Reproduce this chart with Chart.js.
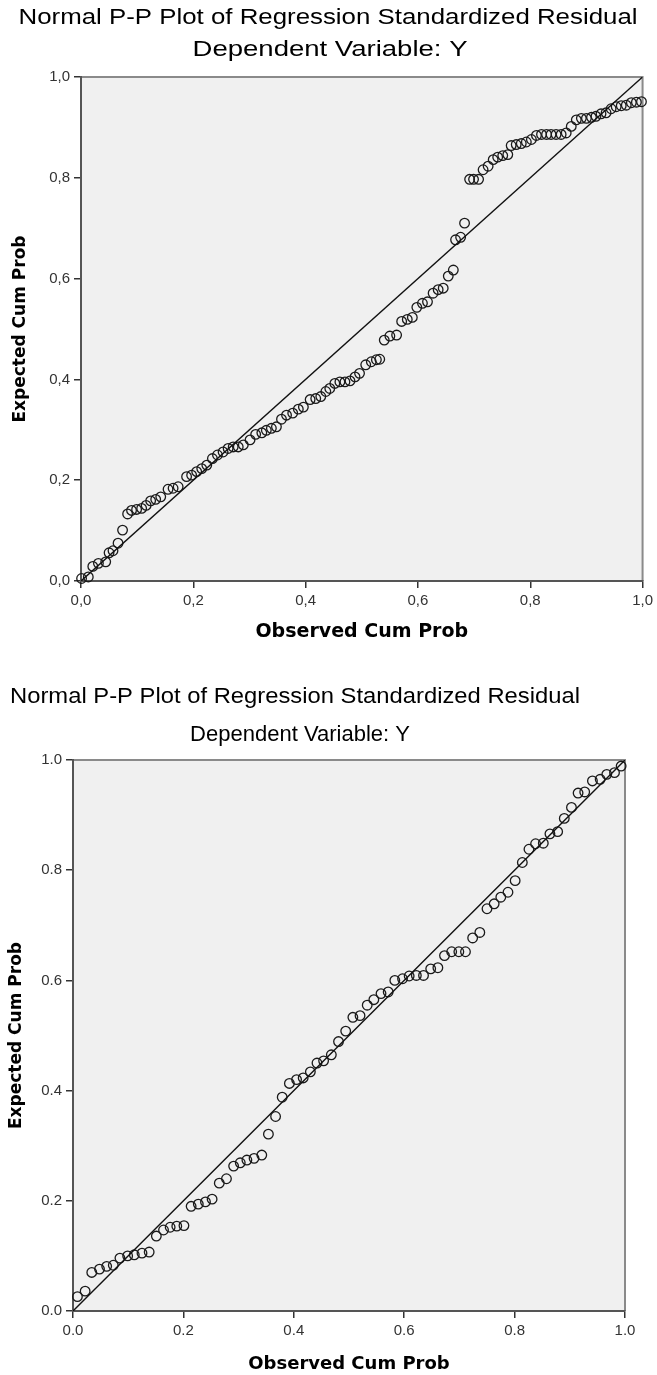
<!DOCTYPE html>
<html>
<head>
<meta charset="utf-8">
<script src="https://cdn.jsdelivr.net/npm/chart.js@4"></script>
<style>
  body { margin: 0; background: #fff; }
  canvas { display: block; }
</style>
</head>
<body>
<canvas id="pp1" width="657" height="650"></canvas>
<canvas id="pp2" width="657" height="725"></canvas>
<script>
// Texts
const titleText = "Normal P-P Plot of Regression Standardized Residual";
const subtitleText = "Dependent Variable: Y";
const xTitle = "Observed Cum Prob";
const yTitle = "Expected Cum Prob";

// Tick labels (chart 1 uses comma decimals, chart 2 uses points)
const tickLabels1 = ["0,0", "0,2", "0,4", "0,6", "0,8", "1,0"];
const tickLabels2 = ["0.0", "0.2", "0.4", "0.6", "0.8", "1.0"];

// reference diagonal
const diagonal = [0, 1];

// Chart 1: observed vs expected cumulative probability
const observed1 = [0.001, 0.013, 0.021, 0.031, 0.044, 0.050, 0.057, 0.066, 0.074, 0.083,
  0.090, 0.099, 0.108, 0.116, 0.124, 0.133, 0.142, 0.155, 0.164, 0.173,
  0.188, 0.197, 0.206, 0.215, 0.224, 0.234, 0.243, 0.253, 0.262, 0.271,
  0.280, 0.289, 0.301, 0.311, 0.322, 0.330, 0.339, 0.348, 0.357, 0.366,
  0.377, 0.387, 0.396, 0.408, 0.418, 0.427, 0.436, 0.443, 0.452, 0.461,
  0.470, 0.479, 0.488, 0.496, 0.507, 0.517, 0.526, 0.532, 0.540, 0.550,
  0.562, 0.571, 0.581, 0.590, 0.598, 0.608, 0.617, 0.627, 0.636, 0.645,
  0.654, 0.663, 0.667, 0.676, 0.683, 0.692, 0.699, 0.708, 0.716, 0.725,
  0.734, 0.742, 0.751, 0.760, 0.766, 0.775, 0.784, 0.793, 0.802, 0.811,
  0.820, 0.829, 0.837, 0.846, 0.855, 0.864, 0.873, 0.882, 0.891, 0.900,
  0.909, 0.917, 0.926, 0.935, 0.944, 0.953, 0.962, 0.971, 0.980, 0.989, 0.998];
const expected1 = [0.005, 0.008, 0.029, 0.035, 0.038, 0.056, 0.060, 0.075, 0.101, 0.133,
  0.140, 0.142, 0.144, 0.150, 0.159, 0.162, 0.167, 0.182, 0.184, 0.187,
  0.207, 0.210, 0.217, 0.223, 0.230, 0.243, 0.250, 0.256, 0.263, 0.266,
  0.266, 0.270, 0.280, 0.291, 0.294, 0.299, 0.303, 0.306, 0.321, 0.329,
  0.333, 0.341, 0.345, 0.360, 0.362, 0.366, 0.376, 0.382, 0.392, 0.395,
  0.395, 0.397, 0.405, 0.412, 0.429, 0.435, 0.439, 0.440, 0.478, 0.486,
  0.488, 0.515, 0.519, 0.523, 0.543, 0.551, 0.554, 0.571, 0.578, 0.581,
  0.605, 0.617, 0.677, 0.682, 0.710, 0.797, 0.797, 0.797, 0.816, 0.823,
  0.836, 0.841, 0.844, 0.846, 0.864, 0.866, 0.868, 0.871, 0.876, 0.884,
  0.886, 0.886, 0.886, 0.886, 0.886, 0.889, 0.902, 0.915, 0.918, 0.918,
  0.920, 0.922, 0.927, 0.929, 0.937, 0.941, 0.943, 0.944, 0.949, 0.950, 0.951];

// Chart 2
const observed2 = [0.008, 0.022, 0.034, 0.048, 0.061, 0.073, 0.085, 0.099, 0.111, 0.125,
  0.138, 0.151, 0.164, 0.176, 0.188, 0.201, 0.214, 0.227, 0.240, 0.252,
  0.265, 0.278, 0.291, 0.303, 0.315, 0.328, 0.342, 0.354, 0.367, 0.379,
  0.392, 0.405, 0.417, 0.430, 0.442, 0.454, 0.468, 0.481, 0.494, 0.507,
  0.520, 0.533, 0.545, 0.558, 0.571, 0.583, 0.597, 0.609, 0.622, 0.635,
  0.648, 0.661, 0.673, 0.686, 0.699, 0.711, 0.724, 0.737, 0.750, 0.763,
  0.775, 0.788, 0.801, 0.814, 0.826, 0.838, 0.852, 0.864, 0.878, 0.890,
  0.903, 0.915, 0.927, 0.941, 0.955, 0.967, 0.981, 0.993];
const expected2 = [0.026, 0.036, 0.070, 0.076, 0.081, 0.083, 0.096, 0.100, 0.102, 0.105,
  0.107, 0.136, 0.147, 0.152, 0.154, 0.155, 0.190, 0.194, 0.198, 0.203,
  0.232, 0.240, 0.263, 0.269, 0.274, 0.277, 0.283, 0.321, 0.353, 0.388,
  0.413, 0.420, 0.423, 0.434, 0.450, 0.454, 0.465, 0.489, 0.508, 0.533,
  0.536, 0.555, 0.565, 0.576, 0.579, 0.600, 0.603, 0.608, 0.609, 0.609,
  0.621, 0.623, 0.645, 0.652, 0.652, 0.652, 0.677, 0.687, 0.730, 0.739,
  0.751, 0.760, 0.781, 0.814, 0.838, 0.848, 0.849, 0.866, 0.870, 0.894,
  0.914, 0.940, 0.942, 0.962, 0.965, 0.974, 0.977, 0.989];

// grey plot area + top/right frame + the two title lines (stretched like the SPSS export)
const framePlugin = {
  id: "frame",
  beforeDraw(chart, args, opts) {
    const { ctx, chartArea: a } = chart;
    ctx.save();
    ctx.fillStyle = "#f0f0f0";
    ctx.fillRect(a.left, a.top, a.right - a.left, a.bottom - a.top);
    ctx.strokeStyle = "#8a8a8a";
    ctx.lineWidth = 2;
    ctx.beginPath();
    ctx.moveTo(a.left, a.top);
    ctx.lineTo(a.right, a.top);
    ctx.lineTo(a.right, a.bottom);
    ctx.stroke();

    ctx.fillStyle = "#000";
    ctx.textAlign = "center";
    ctx.textBaseline = "middle";
    for (const t of opts.lines) {
      ctx.font = t.size + 'px "Liberation Sans", Arial, sans-serif';
      const w = ctx.measureText(t.text).width;
      ctx.save();
      ctx.translate(t.x, t.y);
      ctx.scale(t.width / w, 1);
      ctx.fillText(t.text, 0, 0);
      ctx.restore();
    }
    ctx.restore();
  }
};

function axis(labels, fit, titleFont, titlePad, horizontal) {
  return {
    type: "linear",
    min: 0,
    max: 1,
    afterFit: (s) => { if (horizontal) s.height = fit; else s.width = fit; },
    ticks: {
      stepSize: 0.2,
      padding: 4,
      color: "#333",
      font: { family: '"Liberation Sans", Arial, sans-serif', size: 15 },
      callback: (v, i) => labels[i]
    },
    grid: { drawOnChartArea: false, drawTicks: true, tickLength: 7, color: "#333", lineWidth: 1.5 },
    border: { display: true, color: "#555", width: 2 },
    title: {
      display: true,
      text: horizontal ? xTitle : yTitle,
      color: "#000",
      font: { family: '"DejaVu Sans", sans-serif', size: titleFont, weight: "bold" },
      padding: titlePad
    }
  };
}

function ppPlot(id, obs, exp, labels, lay) {
  const points = obs.map((x, i) => ({ x: x, y: exp[i] }));
  return new Chart(document.getElementById(id), {
    type: "scatter",
    data: {
      datasets: [
        {
          type: "line",
          data: diagonal.map((v) => ({ x: v, y: v })),
          borderColor: "#111",
          borderWidth: 1.4,
          pointRadius: 0,
          fill: false
        },
        {
          data: points,
          pointStyle: "circle",
          pointRadius: 4.8,
          pointBorderWidth: 1.3,
          pointBackgroundColor: "rgba(0,0,0,0)",
          pointBorderColor: "#1a1a1a",
          clip: false
        }
      ]
    },
    options: {
      responsive: false,
      animation: false,
      devicePixelRatio: 1,
      layout: { padding: lay.padding },
      plugins: {
        legend: { display: false },
        tooltip: { enabled: false },
        frame: { lines: lay.lines }
      },
      scales: {
        x: axis(labels, lay.xHeight, lay.xFont, { top: 0, bottom: lay.xPad }, true),
        y: axis(labels, lay.yWidth, lay.yFont, { top: lay.yPad, bottom: 0 }, false)
      }
    },
    plugins: [framePlugin]
  });
}

ppPlot("pp1", observed1, expected1, tickLabels1, {
  padding: { top: 77, right: 14, bottom: 0, left: 0 },
  xHeight: 69, yWidth: 81,
  xFont: 19, xPad: 6.6, yFont: 17, yPad: 10,
  lines: [
    { text: titleText, x: 328, y: 18, size: 22, width: 619 },
    { text: subtitleText, x: 330, y: 50, size: 22, width: 275 }
  ]
});

ppPlot("pp2", observed2, expected2, tickLabels2, {
  padding: { top: 110, right: 32, bottom: 0, left: 0 },
  xHeight: 64, yWidth: 73,
  xFont: 18, xPad: 0, yFont: 17, yPad: 6,
  lines: [
    { text: titleText, x: 295, y: 47, size: 22, width: 570 },
    { text: subtitleText, x: 300, y: 85, size: 22, width: 220 }
  ]
});
</script>
</body>
</html>
